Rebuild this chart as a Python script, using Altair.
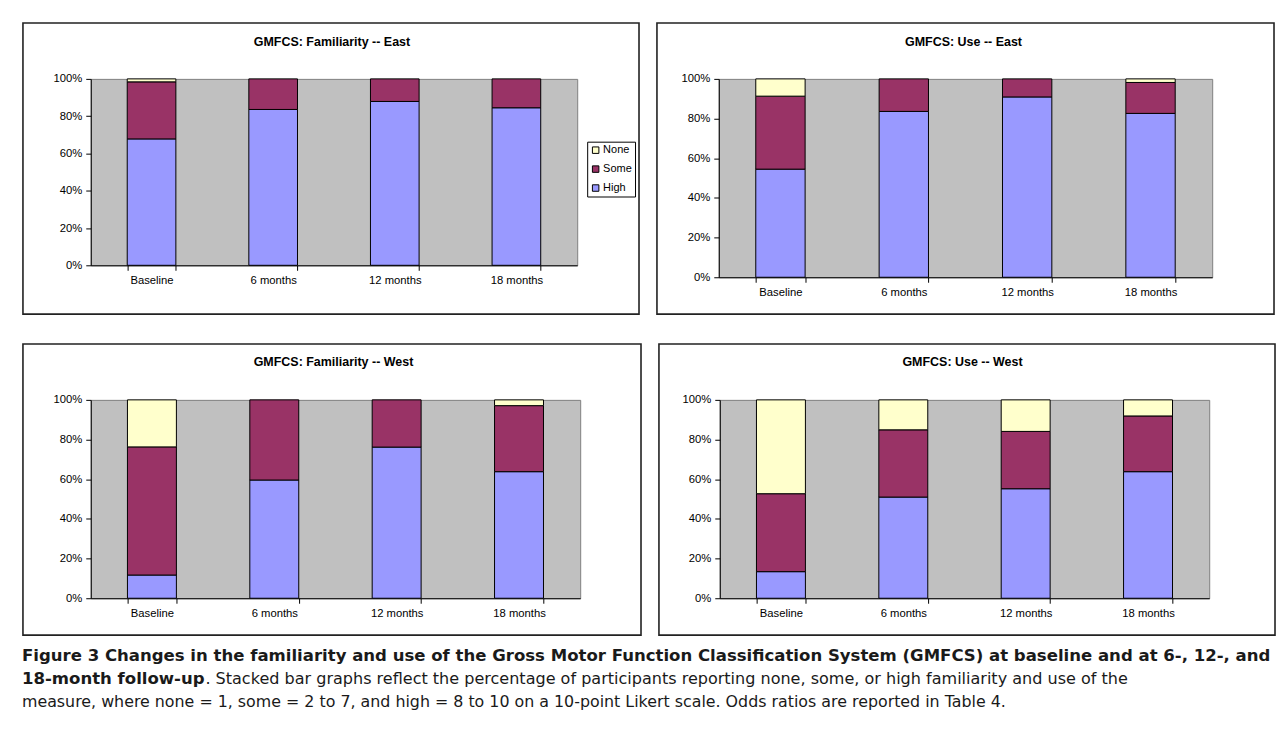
import altair as alt
import pandas as pd

# ---------------- data ----------------
categories = ["Baseline", "6 months", "12 months", "18 months"]
levels = ["None", "Some", "High"]
level_colors = ["#FFFFCC", "#993366", "#9999FF"]
y_ticks = [0, 20, 40, 60, 80, 100]

fam_east_title = "GMFCS: Familiarity --  East"
fam_east_high = [67.8, 83.6, 87.9, 84.5]
fam_east_some = [30.6, 16.4, 12.1, 15.5]
fam_east_none = [1.6, 0.0, 0.0, 0.0]

use_east_title = "GMFCS: Use -- East"
use_east_high = [54.5, 83.6, 90.9, 82.6]
use_east_some = [36.8, 16.4, 9.1, 15.6]
use_east_none = [8.7, 0.0, 0.0, 1.8]

fam_west_title = "GMFCS: Familiarity -- West"
fam_west_high = [11.7, 59.6, 76.2, 63.8]
fam_west_some = [64.6, 40.4, 23.8, 33.3]
fam_west_none = [23.7, 0.0, 0.0, 2.9]

use_west_title = "GMFCS: Use -- West"
use_west_high = [13.4, 51.0, 55.2, 63.8]
use_west_some = [39.3, 33.9, 28.9, 28.1]
use_west_none = [47.3, 15.1, 15.9, 8.1]

caption_line1 = ("Figure 3 Changes in the familiarity and use of the Gross Motor Function "
                 "Classification System (GMFCS) at baseline and at 6-, 12-, and")
caption_line2_bold = "18-month follow-up"
caption_line2_rest = (". Stacked bar graphs reflect the percentage of participants reporting none, "
                      "some, or high familiarity and use of the")
caption_line3 = ("measure, where none = 1, some = 2 to 7, and high = 8 to 10 on a 10-point "
                 "Likert scale. Odds ratios are reported in Table 4.")

FONT = "Liberation Sans"
CAP_FONT = "DejaVu Sans"
LBL = 11.3


def make_df(high, some, none):
    rows = []
    for i, c in enumerate(categories):
        for lvl, vals, rank in (("High", high, 0), ("Some", some, 1), ("None", none, 2)):
            if vals[i] > 0:
                rows.append({"period": c, "level": lvl, "pct": vals[i], "rank": rank})
    return pd.DataFrame(rows)


one_row = pd.DataFrame({"f": [0]})


def panel(title, df, w, h, fl, fr, ft, fb, leg_y, title_y):
    frame = alt.Chart(one_row).mark_rect(
        fill="white", fillOpacity=0, stroke="#222222", strokeWidth=1.6
    ).encode(
        x=alt.value(-fl), x2=alt.value(w + fr), y=alt.value(-ft), y2=alt.value(h + fb)
    )
    ttl = alt.Chart(one_row).mark_text(
        text=title, align="center", baseline="middle", font=FONT, fontSize=12.5,
        fontWeight="bold", color="black"
    ).encode(x=alt.value(w / 2 - 2), y=alt.value(-title_y))
    bars = alt.Chart(df).mark_bar(stroke="black", strokeWidth=1).encode(
        x=alt.X("period:N", sort=categories, title=None,
                scale=alt.Scale(paddingInner=0.6, paddingOuter=0.3),
                axis=alt.Axis(labelAngle=0, tickBand="extent", tickSize=5, labelPadding=4,
                              domainColor="black", tickColor="black", labelColor="black",
                              labelFont=FONT, labelFontSize=LBL, grid=False)),
        y=alt.Y("pct:Q", stack="zero", title=None,
                scale=alt.Scale(domain=[0, 100], nice=False),
                axis=alt.Axis(values=y_ticks, labelExpr="datum.value + '%'", tickSize=5,
                              labelPadding=4, domainColor="black", tickColor="black",
                              labelColor="black", labelFont=FONT, labelFontSize=LBL,
                              grid=False)),
        color=alt.Color("level:N", scale=alt.Scale(domain=levels, range=level_colors),
                        legend=alt.Legend(title=None, orient="none", legendX=w + 10,
                                          legendY=leg_y, strokeColor="black",
                                          fillColor="white", padding=3, rowPadding=7,
                                          labelFont=FONT, labelFontSize=11,
                                          labelColor="black", symbolType="square",
                                          symbolSize=42, symbolStrokeColor="black",
                                          symbolStrokeWidth=1, labelOffset=2,
                                          cornerRadius=0)),
        order=alt.Order("rank:Q", sort="ascending"),
    )
    return alt.layer(frame, ttl, bars).properties(
        width=w, height=h,
        view=alt.ViewBackground(fill="#C0C0C0", stroke="#808080", strokeWidth=1),
    )


p1 = panel(fam_east_title, make_df(fam_east_high, fam_east_some, fam_east_none),
           488, 187, 68, 62, 56, 49, 63, 37)
p2 = panel(use_east_title, make_df(use_east_high, use_east_some, use_east_none),
           495, 199, 62, 62, 56, 37, 72, 37)
p3 = panel(fam_west_title, make_df(fam_west_high, fam_west_some, fam_west_none),
           491, 199, 68, 61, 56, 37, 71, 38)
p4 = panel(use_west_title, make_df(use_west_high, use_west_some, use_west_none),
           491, 199, 61, 66, 56, 37, 71, 38)

CX = -69
BOLD_SIZE = 16.6
BOLD_W = 184
LINE_STEP = 23


def cap_text(text, x, y, bold, size):
    return alt.Chart(one_row).mark_text(
        text=text, align="left", baseline="top", font=CAP_FONT, fontSize=size,
        fontWeight="bold" if bold else "normal", color="#1a1a1a"
    ).encode(x=alt.value(x), y=alt.value(y))


caption = alt.layer(
    cap_text(caption_line1, CX, 0, True, BOLD_SIZE),
    cap_text(caption_line2_bold, CX, LINE_STEP, True, BOLD_SIZE),
    cap_text(caption_line2_rest, CX + BOLD_W, LINE_STEP, False, 16.1),
    cap_text(caption_line3, CX, 2 * LINE_STEP, False, 15.9),
).properties(width=1100, height=40)

row1 = alt.hconcat(p1, p2, spacing=14)
row2 = alt.hconcat(p3, p4, spacing=14)
panels = alt.vconcat(row1, row2, spacing=26)

chart = alt.vconcat(panels, caption, spacing=10).properties(
    padding={"left": 13, "top": 12, "right": 0, "bottom": 0}
).configure_view(stroke="transparent").configure_concat(spacing=16)

chart.save("out.html", embed_options={"renderer": "svg", "actions": False})
